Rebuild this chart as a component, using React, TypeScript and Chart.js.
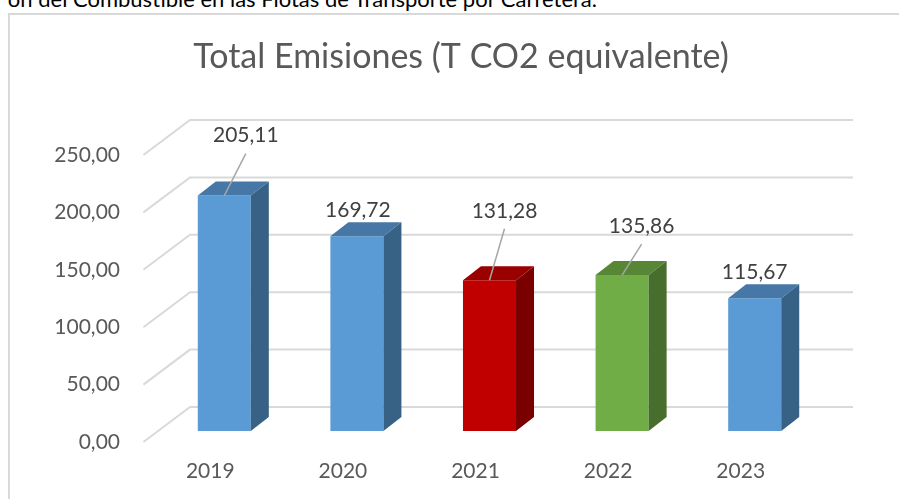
import React, { useEffect, useRef } from 'react';
import { Chart, registerables } from 'chart.js';

Chart.register(...registerables);

// ---- data ----
const categories = ['2019', '2020', '2021', '2022', '2023'];
const emissions = [205.11, 169.72, 131.28, 135.86, 115.67];
const yMin = 0;
const yMax = 250;
const yStep = 50;
const chartTitle = 'Total Emisiones (T CO2 equivalente)';
const headerText = 'ón del Combustible en las Flotas de Transporte por Carretera.';

// ---- styles ----
const frontColors = ['#5b9bd5', '#5b9bd5', '#c00000', '#70ad47', '#5b9bd5'];
const topColors = ['#4677a6', '#4677a6', '#990000', '#578735', '#4677a6'];
const sideColors = ['#386285', '#386285', '#7a0000', '#476e2d', '#386285'];
const hasLeader = [true, false, true, true, false];
const labelShift: [number, number][] = [
  [21.5, -60],
  [1, -26],
  [15, -69.5],
  [19.5, -49],
  [0, -26],
];
const BAR_DEPTH = { dx: 18, dy: -14 };
const WALL_BACK = { dx: 32, dy: -24 };
const WALL_FRONT = { dx: -14.6, dy: 11 };
const FONT = 'Lato';

const fmt = (v: number) => v.toFixed(2).replace('.', ',');

const threeD = {
  id: 'threeD',
  beforeDatasetsDraw(chart: any) {
    const { ctx, chartArea, scales } = chart;
    const y = scales.y;
    ctx.save();
    ctx.strokeStyle = '#d9d9d9';
    ctx.lineWidth = 2;
    y.ticks.forEach((t: any) => {
      const py = y.getPixelForValue(t.value);
      ctx.beginPath();
      ctx.moveTo(chartArea.left + WALL_FRONT.dx, py + WALL_FRONT.dy);
      ctx.lineTo(chartArea.left + WALL_BACK.dx, py + WALL_BACK.dy);
      ctx.lineTo(chartArea.right + WALL_BACK.dx, py + WALL_BACK.dy);
      ctx.stroke();
    });
    ctx.restore();
  },
  afterDatasetsDraw(chart: any) {
    const { ctx } = chart;
    const meta = chart.getDatasetMeta(0);
    ctx.save();
    meta.data.forEach((el: any, i: number) => {
      const { x, y, base, width } = el.getProps(['x', 'y', 'base', 'width'], true);
      const x0 = x - width / 2;
      const x1 = x + width / 2;
      // top face
      ctx.fillStyle = topColors[i];
      ctx.beginPath();
      ctx.moveTo(x0, y);
      ctx.lineTo(x1, y);
      ctx.lineTo(x1 + BAR_DEPTH.dx, y + BAR_DEPTH.dy);
      ctx.lineTo(x0 + BAR_DEPTH.dx, y + BAR_DEPTH.dy);
      ctx.closePath();
      ctx.fill();
      // side face
      ctx.fillStyle = sideColors[i];
      ctx.beginPath();
      ctx.moveTo(x1, y);
      ctx.lineTo(x1 + BAR_DEPTH.dx, y + BAR_DEPTH.dy);
      ctx.lineTo(x1 + BAR_DEPTH.dx, base + BAR_DEPTH.dy);
      ctx.lineTo(x1, base);
      ctx.closePath();
      ctx.fill();
    });
    // labels + leader lines
    meta.data.forEach((el: any, i: number) => {
      const { x, y } = el.getProps(['x', 'y'], true);
      const lx = x + labelShift[i][0];
      const ly = y + labelShift[i][1];
      if (hasLeader[i]) {
        ctx.strokeStyle = '#a6a6a6';
        ctx.lineWidth = 1.5;
        ctx.beginPath();
        ctx.moveTo(lx, ly + 18);
        ctx.lineTo(x, y);
        ctx.stroke();
      }
      ctx.fillStyle = '#404040';
      ctx.font = `21px ${FONT}`;
      ctx.textAlign = 'center';
      ctx.textBaseline = 'middle';
      ctx.fillText(fmt(emissions[i]), lx, ly);
    });
    ctx.restore();
  },
};

export default function App() {
  const ref = useRef<HTMLCanvasElement>(null);

  useEffect(() => {
    if (!ref.current) return;
    const chart = new Chart(ref.current, {
      type: 'bar',
      data: {
        labels: categories,
        datasets: [
          {
            data: emissions,
            backgroundColor: frontColors,
            borderWidth: 0,
            barPercentage: 0.4,
            categoryPercentage: 1,
          },
        ],
      },
      options: {
        responsive: false,
        animation: false,
        devicePixelRatio: 1,
        layout: { padding: { left: 23, right: 0, top: 0, bottom: 0 } },
        plugins: {
          legend: { display: false },
          tooltip: { enabled: false },
          title: {
            display: true,
            text: chartTitle,
            color: '#595959',
            font: { family: FONT, size: 34, weight: 'normal', lineHeight: 1.2 },
            padding: { top: 37, bottom: 66.2 },
          },
        },
        scales: {
          x: {
            grid: { display: false, drawTicks: false },
            border: { display: false },
            ticks: {
              color: '#595959',
              font: { family: FONT, size: 21 },
              labelOffset: -14,
              padding: 28,
            },
            afterFit: (s: any) => {
              s.height = 68;
            },
          },
          y: {
            min: yMin,
            max: yMax,
            grid: { display: false, drawTicks: false },
            border: { display: false },
            ticks: {
              stepSize: yStep,
              color: '#595959',
              font: { family: FONT, size: 21 },
              labelOffset: 11,
              padding: 38,
              callback: (v: any) => fmt(Number(v)),
            },
            afterFit: (s: any) => {
              s.width = 135;
            },
          },
          depthSpace: {
            type: 'linear',
            position: 'right',
            grid: { display: false, drawTicks: false },
            border: { display: false },
            ticks: { display: false },
            afterFit: (s: any) => {
              s.width = 78;
            },
          },
        },
      },
      plugins: [threeD],
    } as any);
    return () => chart.destroy();
  }, []);

  return (
    <div
      style={{
        position: 'fixed',
        left: 0,
        top: 0,
        width: 899,
        height: 499,
        overflow: 'hidden',
        background: '#ffffff',
      }}
    >
      <div
        style={{
          position: 'absolute',
          right: 302,
          top: -11,
          whiteSpace: 'nowrap',
          fontFamily: FONT,
          fontSize: 22,
          lineHeight: '20px',
          color: '#000000',
        }}
      >
        {headerText}
      </div>
      <div
        style={{
          position: 'absolute',
          left: 8,
          top: 13,
          width: 1000,
          height: 1000,
          border: '2px solid #d9d9d9',
          boxSizing: 'border-box',
        }}
      />
      <canvas
        ref={ref}
        width={899}
        height={499}
        style={{ position: 'absolute', left: 0, top: 0, width: 899, height: 499 }}
      />
    </div>
  );
}
